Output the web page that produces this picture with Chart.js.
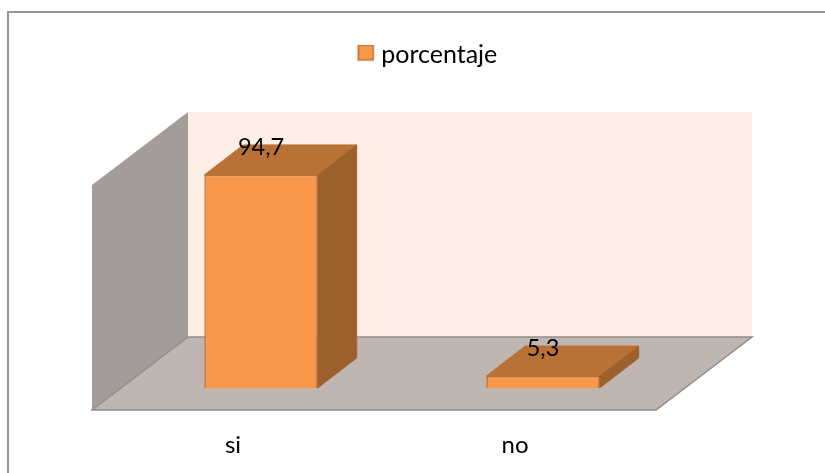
<!DOCTYPE html>
<html><head><meta charset="utf-8">
<style>html,body{margin:0;padding:0;background:#fff}#w{position:relative;width:825px;height:473px}</style>
<script src="https://cdn.jsdelivr.net/npm/chart.js@4"></script></head>
<body><div id="w"><canvas id="c" width="825" height="473"></canvas></div>
<script>
const categories = ['si', 'no'];
const seriesName = 'porcentaje';
const values = [94.7, 5.3];
const axisMin = 0, axisMax = 100;

const FONT = 'Lato, "Open Sans", sans-serif';
const depth = {dx: 39, dy: 30};
const poly = (ctx, pts, fill, stroke) => {
  ctx.beginPath();
  pts.forEach((p, i) => i ? ctx.lineTo(p[0], p[1]) : ctx.moveTo(p[0], p[1]));
  ctx.closePath();
  ctx.fillStyle = fill; ctx.fill();
  if (stroke) { ctx.strokeStyle = stroke; ctx.lineWidth = 1; ctx.stroke(); }
};
// legend key: box placed so that it sits 6px before the label text
const key = document.createElement('canvas');
key.width = 34; key.height = 20;
(() => {
  const k = key.getContext('2d');
  k.fillStyle = '#F9974A'; k.fillRect(12, 0, 16, 16);
  k.strokeStyle = '#B97135'; k.lineWidth = 1.5; k.strokeRect(12.5, 0.5, 15, 15);
})();
const scene = {
  id: 'scene',
  afterLayout(chart) {
    const l = chart.legend, sx = 25, sy = -86;
    l.left += sx; l.right += sx; l.top += sy; l.bottom += sy;
  },
  beforeDraw(chart) {
    const c = chart.ctx;
    c.save();
    c.strokeStyle = '#969696'; c.lineWidth = 2;
    c.beginPath(); c.moveTo(8, 473); c.lineTo(8, 12); c.lineTo(825, 12); c.stroke();
    c.restore();
  },
  beforeDatasetsDraw(chart) {
    const c = chart.ctx, a = chart.chartArea;
    const fx = -28, fy = 22, bx = 68, by = -51;
    const L = a.left, R = a.right, T = a.top, B = a.bottom;
    c.save();
    poly(c, [[L+bx,T+by],[R+bx,T+by],[R+bx,B+by],[L+bx,B+by]], '#FDEEE6');
    poly(c, [[L+fx,T+fy],[L+bx,T+by],[L+bx,B+by],[L+fx,B+fy]], '#A49C98');
    poly(c, [[L+fx,B+fy],[R+fx,B+fy],[R+bx,B+by],[L+bx,B+by]], '#BFB5B1');
    c.strokeStyle = '#8E8E8E'; c.lineWidth = 1.5;
    c.beginPath();
    c.moveTo(L+fx-1,B+fy); c.lineTo(R+fx,B+fy); c.lineTo(R+bx,B+by); c.lineTo(L+bx,B+by); c.lineTo(L+fx,B+fy);
    c.stroke();
    chart.getDatasetMeta(0).data.forEach(b => {
      const l = b.x - b.width/2, r = b.x + b.width/2, t = b.y, bt = b.base;
      poly(c, [[l,t],[r,t],[r+depth.dx,t-depth.dy],[l+depth.dx,t-depth.dy]], '#B97135', '#B97135');
      poly(c, [[r,t],[r+depth.dx,t-depth.dy],[r+depth.dx,bt-depth.dy],[r,bt]], '#9C602C', '#A5652F');
    });
    c.restore();
  },
  afterDatasetsDraw(chart) {
    const c = chart.ctx;
    c.save();
    c.fillStyle = '#000'; c.font = '23.5px ' + FONT;
    c.textAlign = 'center'; c.textBaseline = 'middle';
    chart.getDatasetMeta(0).data.forEach((b, i) => {
      c.fillText(String(values[i]).replace('.', ','), b.x, b.y - 28);
    });
    c.restore();
  }
};
new Chart(document.getElementById('c'), {
  type: 'bar',
  data: { labels: categories, datasets: [{
    label: seriesName, data: values,
    backgroundColor: '#F9974A', borderColor: '#B97135', borderWidth: 1.5,
    categoryPercentage: 0.402, barPercentage: 1
  }]},
  plugins: [scene],
  options: {
    responsive: false, animation: false,
    layout: { padding: { left: 120, right: 141, top: 128, bottom: 0 } },
    plugins: {
      tooltip: { enabled: false },
      legend: { position: 'top',
        labels: { usePointStyle: true, pointStyle: key, boxWidth: 12, boxHeight: 16, padding: 0,
                  color: '#000', font: { family: FONT, size: 25 } } }
    },
    scales: {
      x: { grid: { display: false }, border: { display: false },
           afterFit: s => { s.height = 85; },
           ticks: { padding: 35, labelOffset: -28, color: '#000', font: { family: FONT, size: 24 } } },
      y: { display: false, min: axisMin, max: axisMax }
    }
  }
});
</script></body></html>
